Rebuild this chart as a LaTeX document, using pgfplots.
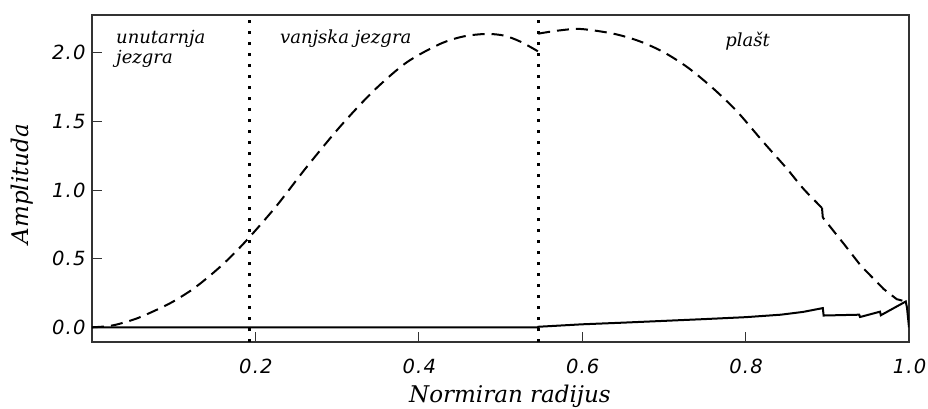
\documentclass[border=0pt]{standalone}
\usepackage{fontspec}
\setmainfont{DejaVu Serif}
\newfontfamily\ticksfont[LetterSpace=6]{DejaVu Sans}
\usepackage{pgfplots}
\pgfplotsset{compat=1.18}
\begin{document}
\begin{tikzpicture}
\useasboundingbox (-92pt,-66pt) rectangle (836pt,342pt);
\begin{axis}[
  at={(0,0)}, anchor=south west,
  scale only axis, width=817pt, height=327pt,
  xmin=0, xmax=1, ymin=-0.107, ymax=2.276,
  xtick={0.2,0.4,0.6,0.8,1.0}, ytick={0,0.5,1,1.5,2},
  xticklabels={0.2,0.4,0.6,0.8,1.0}, yticklabels={0.0,0.5,1.0,1.5,2.0},
  tick align=inside, major tick length=10pt, xtick pos=bottom, ytick pos=left,
  axis line style={line width=1.2pt, black!80},
  every tick/.style={line width=1pt, black!80},
  tick label style={font=\fontsize{19.5}{22}\selectfont\ticksfont\itshape},
  /pgf/number format/assume math mode=true,
  xticklabel style={anchor=base, yshift=-31pt, xshift=0.5pt},
  yticklabel style={xshift=-3pt},
  label style={font=\fontsize{23}{26}\selectfont\itshape, inner sep=0pt},
  xlabel={Normiran radijus}, ylabel={Amplituda},
  xlabel style={at={(axis description cs:0.5116,0)}, anchor=base, yshift=-60pt},
  ylabel style={at={(axis description cs:-0.0783,0.483)}, anchor=base},
  clip=true,
]
% boundaries
\addplot[black, line width=2.5pt, dash pattern=on 3.5pt off 7.5pt] coordinates {(0.1926,-0.107) (0.1926,2.276)};
\addplot[black, line width=2.5pt, dash pattern=on 3.5pt off 7.5pt] coordinates {(0.5462,-0.107) (0.5462,2.276)};
% solid curve
\addplot[black, line width=2pt, line join=miter] coordinates {
 (0,0) (0.5462,0) (0.5462,0.004) (0.60,0.022) (0.65,0.034) (0.70,0.047) (0.75,0.060)
 (0.80,0.074) (0.843,0.092) (0.870,0.112) (0.8945,0.140) (0.8955,0.086) (0.939,0.092)
 (0.940,0.075) (0.9645,0.114) (0.9655,0.088) (0.996,0.188) (0.9975,0.145) (1.0,0.0)
};
% dashed curve
\addplot[black, line width=2pt, dash pattern=on 12pt off 7pt, smooth, tension=0.5] coordinates {
 (0,0) (0.015,0.006) (0.03,0.02) (0.055,0.065) (0.08,0.13) (0.10,0.19) (0.125,0.285)
 (0.15,0.405) (0.17,0.515) (0.1926,0.656) (0.226,0.886) (0.263,1.170) (0.304,1.465)
 (0.345,1.725) (0.385,1.93) (0.426,2.065) (0.455,2.12) (0.483,2.138) (0.505,2.125) (0.525,2.08) (0.5462,2.01)
};
\addplot[black, line width=2pt, dash pattern=on 12pt off 7pt, smooth, tension=0.5] coordinates {
 (0.5462,2.14) (0.57,2.162) (0.598,2.174) (0.638,2.14) (0.67,2.085) (0.70,2.004) (0.73,1.89) (0.761,1.737)
 (0.79,1.57) (0.822,1.348) (0.85,1.16) (0.871,1.008) (0.8935,0.87)
};
\addplot[black, line width=2pt, dash pattern=on 12pt off 7pt] coordinates {
 (0.8935,0.87) (0.8945,0.80) (0.92,0.61) (0.941,0.449) (0.969,0.279) (0.985,0.205) (0.996,0.188)
};
\node[anchor=base west, inner sep=0pt, font=\fontsize{18}{20}\selectfont\itshape] at (axis cs:0.0294,2.065) {unutarnja};
\node[anchor=base west, inner sep=0pt, font=\fontsize{18}{20}\selectfont\itshape] at (axis cs:0.0294,1.919) {jezgra};
\node[anchor=base west, inner sep=0pt, font=\fontsize{18}{20}\selectfont\itshape] at (axis cs:0.230,2.065) {vanjska jezgra};
\node[anchor=base west, inner sep=0pt, font=\fontsize{18}{20}\selectfont\itshape] at (axis cs:0.775,2.05) {plašt};
\end{axis}
\end{tikzpicture}
\end{document}
